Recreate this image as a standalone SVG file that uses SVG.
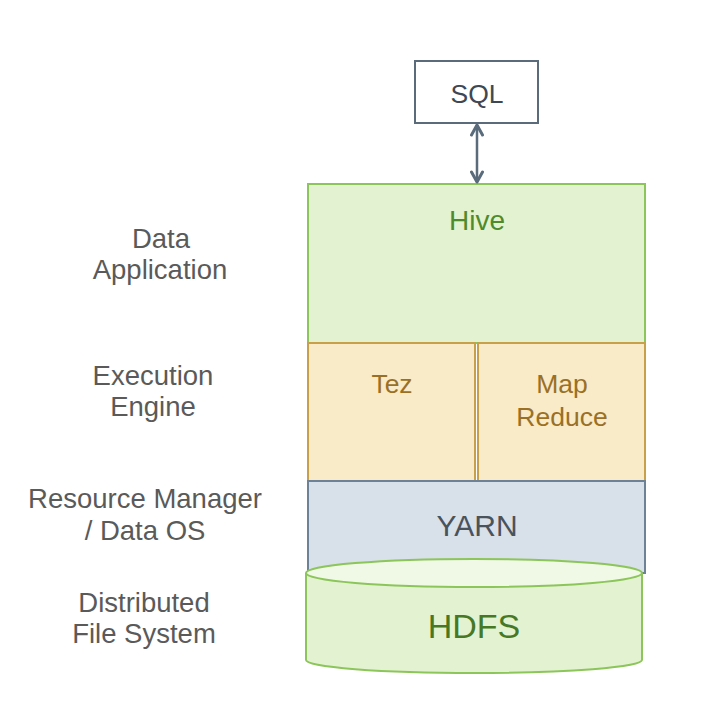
<svg xmlns="http://www.w3.org/2000/svg" width="726" height="721" viewBox="0 0 726 721">
<defs>
<style>
text{font-family:"Liberation Sans",Arial,sans-serif;text-anchor:middle}
.lbl{font-size:27.5px;fill:#5a5a5a}
.in{font-size:26.5px}
</style>
<marker id="chev" viewBox="0 0 14 14" refX="12" refY="7" markerWidth="14" markerHeight="14" markerUnits="userSpaceOnUse" orient="auto-start-reverse">
<path d="M2,1.5 L12,7 L2,12.5" fill="none" stroke="#5a6b7b" stroke-width="3" stroke-linecap="round" stroke-linejoin="round"/>
</marker>
</defs>
<rect width="726" height="721" fill="#ffffff"/>
<g id="labels">
<text class="lbl" x="161" y="248">Data</text>
<text class="lbl" x="160" y="279">Application</text>
<text class="lbl" x="153" y="385">Execution</text>
<text class="lbl" x="153" y="416">Engine</text>
<text class="lbl" x="145" y="508">Resource Manager</text>
<text class="lbl" x="145" y="540">/ Data OS</text>
<text class="lbl" x="144" y="612">Distributed</text>
<text class="lbl" x="144" y="643">File System</text>
</g>
<g id="sql">
<rect x="415" y="61" width="123" height="62" fill="#ffffff" stroke="#5a6b7b" stroke-width="2"/>
<text class="in" x="477" y="103" fill="#3f4852">SQL</text>
</g>
<g id="hive">
<rect x="308" y="184" width="337" height="159" fill="#e3f2d1" stroke="#8cc65a" stroke-width="2"/>
<text x="477" y="230" font-size="28" fill="#4f8a2c">Hive</text>
</g>
<g id="tez">
<rect x="308" y="343" width="167" height="138" fill="#f9eac8" stroke="#c9a04a" stroke-width="2"/>
<text class="in" x="392" y="393" fill="#9a7026">Tez</text>
</g>
<g id="mapreduce">
<rect x="478" y="343" width="167" height="138" fill="#f9eac8" stroke="#c9a04a" stroke-width="2"/>
<text class="in" x="562" y="393" fill="#9a7026">Map</text>
<text class="in" x="562" y="426" fill="#9a7026">Reduce</text>
</g>
<g id="yarn">
<rect x="308" y="481" width="337" height="92" fill="#d8e0e9" stroke="#6d8296" stroke-width="2"/>
<text x="477" y="536" font-size="30" fill="#4a525c">YARN</text>
</g>
<g id="hdfs">
<path d="M306,573 L306,660 A168,13 0 0 0 642,660 L642,573" fill="#e3f2d1" stroke="#8cc65a" stroke-width="2"/>
<ellipse cx="474" cy="573" rx="168" ry="14" fill="#f0f8e6" stroke="#8cc65a" stroke-width="2"/>
<text x="474" y="638" font-size="34" fill="#467826">HDFS</text>
</g>
<g id="connectors">
<line x1="477" y1="125" x2="477" y2="182" stroke="#5a6b7b" stroke-width="2.5" marker-start="url(#chev)" marker-end="url(#chev)"/>
</g>
</svg>
